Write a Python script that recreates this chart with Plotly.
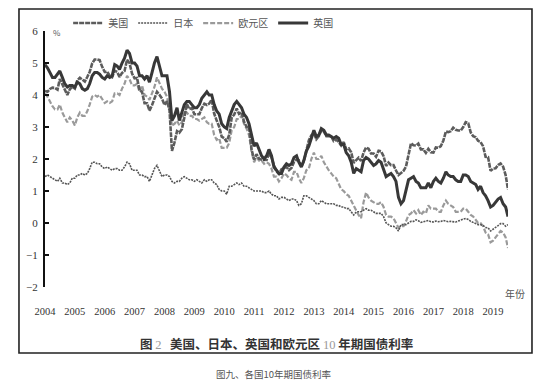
import plotly.graph_objects as go
import pandas as pd

# ---- data (monthly) ----
months = pd.date_range("2004-09-01", "2020-03-01", freq="MS").strftime("%Y-%m-%d").tolist()
year_labels = [str(y) for y in range(2004, 2020)]
year_tick_dates = [f"{y}-09-01" for y in range(2004, 2020)]
y_ticks = [-2, -1, 0, 1, 2, 3, 4, 5, 6]

us_yield = [
    4.13, 4.10, 4.19, 4.23,
    4.22, 4.17, 4.50, 4.34, 4.14, 4.00, 4.18, 4.26, 4.20, 4.46, 4.54, 4.47,
    4.42, 4.57, 4.72, 4.99, 5.11, 5.11, 5.09, 4.88, 4.72, 4.73, 4.60, 4.56,
    4.76, 4.72, 4.56, 4.69, 4.75, 5.10, 5.00, 4.67, 4.52, 4.53, 4.15, 4.10,
    3.74, 3.74, 3.51, 3.68, 3.88, 4.10, 4.01, 3.89, 3.69, 3.81, 3.53, 2.25,
    2.52, 2.87, 2.82, 2.93, 3.29, 3.72, 3.56, 3.59, 3.40, 3.39, 3.40, 3.59,
    3.73, 3.69, 3.73, 3.85, 3.42, 3.20, 3.01, 2.70, 2.65, 2.54, 2.76, 3.29,
    3.39, 3.58, 3.41, 3.46, 3.17, 3.00, 3.00, 2.30, 1.98, 2.15, 2.01, 1.98,
    1.97, 1.97, 2.17, 2.05, 1.80, 1.62, 1.53, 1.68, 1.72, 1.75, 1.65, 1.72,
    1.91, 1.98, 1.96, 1.76, 1.93, 2.30, 2.58, 2.74, 2.81, 2.62, 2.72, 2.90,
    2.86, 2.71, 2.72, 2.71, 2.56, 2.60, 2.54, 2.42, 2.53, 2.30, 2.33, 2.21,
    1.88, 1.98, 2.04, 1.94, 2.20, 2.36, 2.32, 2.17, 2.17, 2.07, 2.26, 2.24,
    2.09, 1.78, 1.89, 1.81, 1.81, 1.64, 1.50, 1.56, 1.63, 1.76, 2.14, 2.49,
    2.43, 2.42, 2.48, 2.30, 2.30, 2.19, 2.32, 2.21, 2.20, 2.36, 2.35, 2.40,
    2.58, 2.86, 2.84, 2.87, 2.98, 2.91, 2.89, 2.89, 3.00, 3.15, 3.12, 2.83,
    2.71, 2.68, 2.57, 2.53, 2.40, 2.07, 2.06, 1.63, 1.70, 1.71, 1.81, 1.86,
    1.76, 1.50, 1.05,
]

jp_yield = [
    1.45, 1.50, 1.45, 1.40,
    1.35, 1.30, 1.40, 1.25, 1.25, 1.20, 1.25, 1.40, 1.40, 1.50, 1.50, 1.55,
    1.50, 1.55, 1.70, 1.90, 1.90, 1.85, 1.85, 1.75, 1.70, 1.75, 1.70, 1.65,
    1.70, 1.70, 1.65, 1.65, 1.75, 1.90, 1.85, 1.65, 1.65, 1.65, 1.50, 1.50,
    1.45, 1.45, 1.30, 1.50, 1.70, 1.80, 1.60, 1.45, 1.50, 1.50, 1.45, 1.30,
    1.25, 1.30, 1.30, 1.40, 1.45, 1.40, 1.35, 1.35, 1.30, 1.35, 1.30, 1.25,
    1.35, 1.30, 1.35, 1.35, 1.25, 1.20, 1.05, 1.00, 1.00, 0.90, 1.15, 1.15,
    1.20, 1.25, 1.20, 1.25, 1.15, 1.15, 1.10, 1.05, 1.00, 1.00, 1.00, 1.00,
    0.95, 0.95, 1.00, 0.90, 0.85, 0.85, 0.75, 0.80, 0.80, 0.75, 0.70, 0.75,
    0.75, 0.70, 0.55, 0.60, 0.85, 0.85, 0.80, 0.75, 0.70, 0.60, 0.60, 0.70,
    0.65, 0.60, 0.60, 0.60, 0.60, 0.55, 0.55, 0.50, 0.50, 0.45, 0.45, 0.35,
    0.25, 0.35, 0.35, 0.35, 0.40, 0.45, 0.40, 0.40, 0.35, 0.30, 0.30, 0.30,
    0.20, 0.00, -0.05, -0.10, -0.10, -0.15, -0.25, -0.05, -0.05, -0.05, 0.00, 0.05,
    0.05, 0.10, 0.07, 0.02, 0.04, 0.06, 0.08, 0.04, 0.03, 0.06, 0.04, 0.05,
    0.08, 0.06, 0.04, 0.05, 0.05, 0.03, 0.06, 0.10, 0.12, 0.14, 0.11, 0.05,
    0.01, -0.03, -0.05, -0.05, -0.08, -0.14, -0.15, -0.25, -0.20, -0.15, -0.08, -0.02,
    -0.02, -0.10, -0.05,
]

eu_yield = [
    4.05, 3.95, 3.80, 3.65,
    3.55, 3.55, 3.70, 3.45, 3.30, 3.15, 3.30, 3.20, 3.05, 3.30, 3.45, 3.35,
    3.35, 3.50, 3.70, 3.95, 4.00, 3.95, 4.00, 3.85, 3.75, 3.80, 3.75, 3.80,
    4.05, 4.05, 4.00, 4.20, 4.35, 4.60, 4.50, 4.30, 4.30, 4.35, 4.10, 4.30,
    4.00, 3.95, 3.85, 4.05, 4.25, 4.55, 4.40, 4.20, 4.10, 3.95, 3.55, 3.05,
    3.10, 3.20, 3.05, 3.15, 3.50, 3.45, 3.35, 3.35, 3.25, 3.25, 3.20, 3.25,
    3.30, 3.15, 3.10, 3.10, 2.75, 2.60, 2.65, 2.35, 2.35, 2.35, 2.50, 2.90,
    3.00, 3.25, 3.25, 3.35, 3.10, 2.95, 2.75, 2.25, 1.90, 2.05, 1.95, 1.95,
    1.85, 1.90, 1.85, 1.70, 1.45, 1.45, 1.30, 1.40, 1.55, 1.50, 1.40, 1.35,
    1.60, 1.60, 1.40, 1.25, 1.40, 1.65, 1.70, 2.00, 2.20, 2.00, 2.00, 2.10,
    1.90, 1.75, 1.65, 1.55, 1.45, 1.40, 1.25, 1.05, 1.00, 0.90, 0.85, 0.70,
    0.55, 0.40, 0.25, 0.15, 0.65, 0.95, 0.80, 0.70, 0.65, 0.60, 0.60, 0.65,
    0.50, 0.25, 0.20, 0.20, 0.15, 0.00, -0.15, -0.10, -0.10, 0.05, 0.25, 0.30,
    0.40, 0.30, 0.40, 0.25, 0.35, 0.30, 0.55, 0.45, 0.45, 0.45, 0.35, 0.35,
    0.55, 0.70, 0.60, 0.55, 0.50, 0.35, 0.35, 0.35, 0.45, 0.45, 0.35, 0.25,
    0.20, 0.10, 0.00, 0.00, -0.10, -0.30, -0.35, -0.60, -0.55, -0.45, -0.35, -0.25,
    -0.30, -0.45, -0.78,
]

uk_yield = [
    4.95, 4.85, 4.70, 4.55,
    4.55, 4.65, 4.75, 4.55, 4.35, 4.25, 4.30, 4.30, 4.25, 4.40, 4.35, 4.20,
    4.15, 4.20, 4.35, 4.60, 4.70, 4.70, 4.65, 4.55, 4.50, 4.60, 4.55, 4.60,
    4.95, 4.90, 4.80, 5.00, 5.15, 5.40, 5.30, 5.00, 5.00, 4.90, 4.60, 4.60,
    4.50, 4.60, 4.40, 4.70, 5.00, 5.20, 4.90, 4.60, 4.60, 4.60, 4.10, 3.20,
    3.35, 3.60, 3.20, 3.50, 3.70, 3.80, 3.80, 3.70, 3.60, 3.60, 3.70, 3.90,
    4.00, 4.10, 4.00, 4.00, 3.70, 3.50, 3.40, 3.10, 3.00, 2.95, 3.30, 3.50,
    3.70, 3.80, 3.70, 3.60, 3.40, 3.30, 3.10, 2.70, 2.40, 2.50, 2.30, 2.10,
    2.00, 2.10, 2.30, 2.10, 1.75, 1.65, 1.55, 1.55, 1.75, 1.85, 1.80, 1.85,
    2.05, 2.10, 1.90, 1.75, 1.95, 2.25, 2.40, 2.65, 2.90, 2.70, 2.75, 2.95,
    2.90, 2.75, 2.75, 2.70, 2.65, 2.70, 2.65, 2.45, 2.45, 2.20, 2.10, 1.90,
    1.55, 1.70, 1.65, 1.60, 1.95, 2.05, 2.00, 1.90, 1.80, 1.85, 1.95, 1.90,
    1.70, 1.45, 1.50, 1.55, 1.45, 1.30, 0.80, 0.60, 0.70, 1.00, 1.35, 1.40,
    1.45, 1.30, 1.25, 1.10, 1.10, 1.10, 1.25, 1.10, 1.30, 1.40, 1.30, 1.25,
    1.40, 1.60, 1.50, 1.45, 1.45, 1.35, 1.30, 1.30, 1.50, 1.50, 1.45, 1.30,
    1.25, 1.20, 1.05, 1.15, 0.95, 0.85, 0.70, 0.50, 0.55, 0.65, 0.75, 0.80,
    0.60, 0.50, 0.20,
]

for s in (us_yield, jp_yield, eu_yield, uk_yield):
    assert len(s) == len(months), (len(s), len(months))

# ---- figure ----
fig = go.Figure()
fig.add_trace(go.Scatter(x=months, y=eu_yield, name="欧元区", mode="lines", legendrank=3,
                         line=dict(color="#9a9a9a", width=2.2, dash="5px,2px")))
fig.add_trace(go.Scatter(x=months, y=jp_yield, name="日本", mode="lines", legendrank=2,
                         line=dict(color="#555555", width=1.6, dash="2px,1px")))
fig.add_trace(go.Scatter(x=months, y=us_yield, name="美国", mode="lines", legendrank=1,
                         line=dict(color="#5c5c5c", width=2.6, dash="5px,1px")))
fig.add_trace(go.Scatter(x=months, y=uk_yield, name="英国", mode="lines", legendrank=4,
                         line=dict(color="#383838", width=3)))

serif = "Liberation Serif"
cjk = "Noto Sans CJK SC"

fig.update_layout(
    width=550, height=386,
    margin=dict(l=45, r=42, t=31, b=99, autoexpand=False),
    paper_bgcolor="white", plot_bgcolor="white",
    showlegend=True,
    legend=dict(orientation="h", x=0.05, y=1.031, xanchor="left", yanchor="middle",
                font=dict(family=cjk, size=10, color="#555"),
                bgcolor="rgba(0,0,0,0)", itemwidth=30,
                traceorder="normal"),
    xaxis=dict(type="date", range=[months[0], months[-1]],
               tickvals=year_tick_dates, ticktext=year_labels,
               showline=False, ticks="", showgrid=False, zeroline=False,
               tickfont=dict(family=serif, size=10.5, color="#333"),
               ticklabelstandoff=16),
    xaxis2=dict(type="date", range=[months[0], months[-1]], overlaying="x",
                anchor="free", position=0.25, side="bottom",
                showline=True, linecolor="#111", linewidth=2,
                ticks="inside", ticklen=5, tickwidth=1.5, tickcolor="#111",
                tickvals=year_tick_dates[1:], showticklabels=False, showgrid=False,
                zeroline=False),
    yaxis=dict(range=[-2, 6], tickvals=y_ticks, showline=True, linecolor="#111",
               linewidth=2, ticks="inside", ticklen=4, tickwidth=1.5, tickcolor="#111",
               showgrid=False, zeroline=False,
               tickfont=dict(family=serif, size=11, color="#333"),
               ticklabelstandoff=3),
    shapes=[dict(type="rect", xref="paper", yref="paper",
                 x0=-0.0562, x1=1.0518, y0=-0.2578, y1=1.0859,
                 line=dict(color="#222", width=1.6), fillcolor="rgba(0,0,0,0)")],
    annotations=[
        dict(text="%", xref="paper", yref="paper", x=0.026, y=0.996, showarrow=False,
             font=dict(family=cjk, size=8, color="#555"), xanchor="center", yanchor="middle"),
        dict(text="年份", xref="paper", yref="paper", x=1.015, y=-0.027, showarrow=False,
             font=dict(family=cjk, size=10, color="#555"), xanchor="center", yanchor="middle"),
        dict(text="<b>图 <span style='color:#9a9a9a;font-family:Liberation Serif;font-weight:normal'>2</span>"
                  "   美国、日本、英国和欧元区 <span style='color:#9a9a9a;font-family:Liberation Serif;font-weight:normal'>10</span> 年期国债利率</b>",
             xref="paper", yref="paper", x=0.501, y=-0.219, showarrow=False,
             font=dict(family=cjk, size=12.5, color="#333"), xanchor="center", yanchor="middle"),
        dict(text="图九、各国10年期国债利率", xref="paper", yref="paper", x=0.495, y=-0.340,
             showarrow=False, font=dict(family=cjk, size=9.5, color="#555"),
             xanchor="center", yanchor="middle"),
    ],
)

fig.write_html("out.html", config={"displayModeBar": False},
               post_script="document.body.style.margin='0px';document.body.style.padding='0px';")
